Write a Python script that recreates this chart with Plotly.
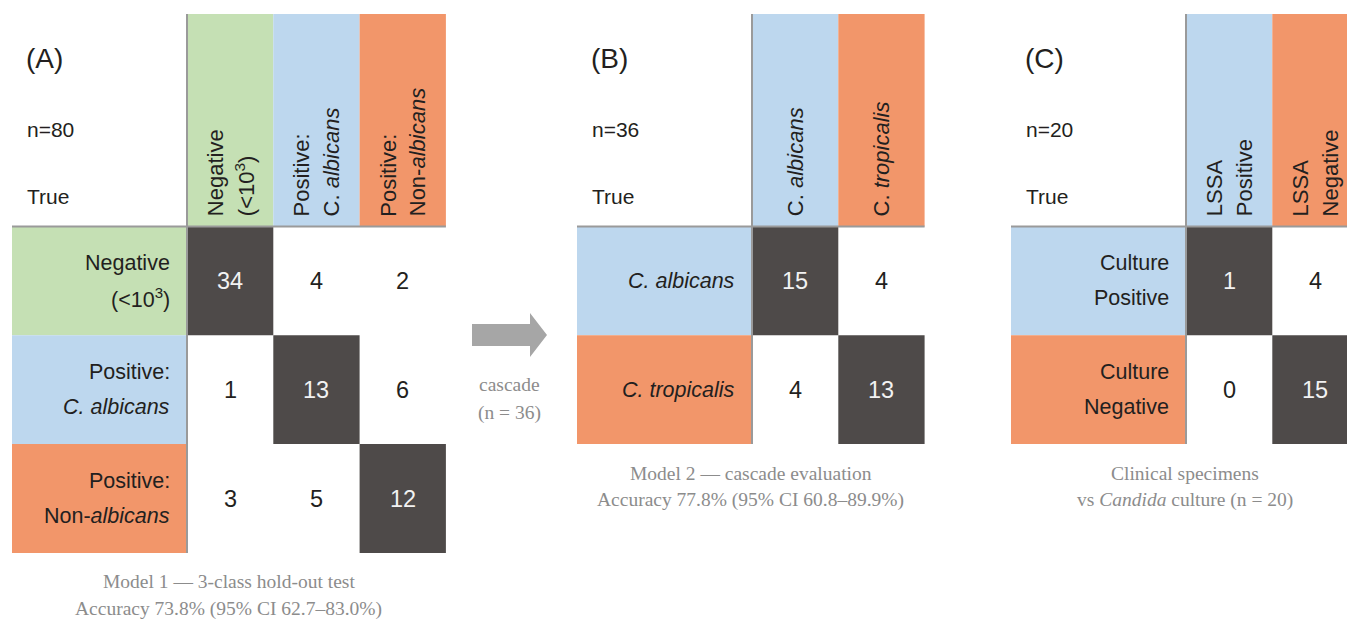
import plotly.graph_objects as go

# ---------------- data ----------------
panel_tags = ["(A)", "(B)", "(C)"]
panel_n = ["n=80", "n=36", "n=20"]

a_cols = [["Negative", "(<10<sup>3</sup>)"],
          ["Positive:", "C. <i>albicans</i>"],
          ["Positive:", "Non-<i>albicans</i>"]]
a_rows = [["Negative", "(<10<sup>3</sup>)"],
          ["Positive:", "<i>C. albicans</i>"],
          ["Positive:", "Non-<i>albicans</i>"]]
a_vals = [[34, 4, 2],
          [1, 13, 6],
          [3, 5, 12]]

b_cols = [["C. <i>albicans</i>"], ["C. <i>tropicalis</i>"]]
b_rows = [["<i>C. albicans</i>"], ["<i>C. tropicalis</i>"]]
b_vals = [[15, 4],
          [4, 13]]

c_cols = [["LSSA", "Positive"], ["LSSA", "Negative"]]
c_rows = [["Culture", "Positive"], ["Culture", "Negative"]]
c_vals = [[1, 4],
          [0, 15]]

captions = [
    ["Model 1 \u2014 3-class hold-out test",
     "Accuracy 73.8% (95% CI 62.7\u201383.0%)"],
    ["Model 2 \u2014 cascade evaluation",
     "Accuracy 77.8% (95% CI 60.8\u201389.9%)"],
    ["Clinical specimens",
     "vs <i>Candida</i> culture (n = 20)"],
]
arrow_text = ["cascade", "(n = 36)"]

# ---------------- styling ----------------
GREEN = "#c5e0b4"
BLUE = "#bdd7ee"
ORANGE = "#f2966a"
DARK = "#4e4a49"
LINE = "#9a9a9a"
INK = "#231f20"
CAP = "#8c8c8c"

SANS = "Liberation Sans, Arial, sans-serif"
SERIF = "Liberation Serif, Times New Roman, serif"

W, H = 1347, 620
HEAD_TOP = 14
GRID_TOP = 226.5
ROW_H = 108.8
COL_W = 86.3
LABEL_W = 175

panels = [
    dict(left=12, cols=a_cols, rows=a_rows, vals=a_vals,
         colors=[GREEN, BLUE, ORANGE]),
    dict(left=577, cols=b_cols, rows=b_rows, vals=b_vals,
         colors=[BLUE, ORANGE]),
    dict(left=1011, cols=c_cols, rows=c_rows, vals=c_vals,
         colors=[BLUE, ORANGE]),
]

fig = go.Figure()
shapes = []
annotations = []


def rect(x0, y0, x1, y1, color):
    shapes.append(dict(type="rect", xref="x", yref="y", x0=x0, y0=y0,
                       x1=x1, y1=y1, fillcolor=color,
                       line=dict(width=0), layer="below"))


def text(x, y, s, size, font=SANS, color=INK, xanchor="center",
         yanchor="middle", angle=0):
    annotations.append(dict(x=x, y=y, xref="x", yref="y", text=s,
                            showarrow=False, xanchor=xanchor,
                            yanchor=yanchor, textangle=angle,
                            font=dict(family=font, size=size, color=color)))


for p, pan in enumerate(panels):
    left = pan["left"]
    gx = left + LABEL_W
    n = len(pan["vals"])
    gright = gx + n * COL_W
    gbottom = GRID_TOP + n * ROW_H

    # column header strips with rotated labels
    for j, lines in enumerate(pan["cols"]):
        x0 = gx + j * COL_W
        rect(x0, HEAD_TOP, x0 + COL_W, GRID_TOP, pan["colors"][j])
        xc = x0 + COL_W / 2
        k = len(lines)
        for li, s in enumerate(lines):
            off = (li - (k - 1) / 2) * 30
            text(xc + off, GRID_TOP - 8, s, 22,
                 yanchor="bottom", angle=-90)

    # row label blocks and matrix cells
    for i, lines in enumerate(pan["rows"]):
        y0 = GRID_TOP + i * ROW_H
        yc = y0 + ROW_H / 2
        rect(left, y0, gx, y0 + ROW_H, pan["colors"][i])
        k = len(lines)
        for li, s in enumerate(lines):
            off = (li - (k - 1) / 2) * 35
            text(gx - 15, yc + off, s, 21.5, xanchor="right")
        for j, v in enumerate(pan["vals"][i]):
            x0 = gx + j * COL_W
            diag = i == j
            if diag:
                rect(x0, y0, x0 + COL_W, y0 + ROW_H, DARK)
            text(x0 + COL_W / 2, yc, str(v), 23.5,
                 color="#f2f2f2" if diag else INK)

    # divider lines
    shapes.append(dict(type="line", xref="x", yref="y", x0=left, x1=gright,
                       y0=GRID_TOP, y1=GRID_TOP,
                       line=dict(color=LINE, width=2)))
    shapes.append(dict(type="line", xref="x", yref="y", x0=gx, x1=gx,
                       y0=HEAD_TOP, y1=gbottom,
                       line=dict(color=LINE, width=2)))

    # corner texts
    text(left + 12, 58, panel_tags[p], 28, xanchor="left")
    text(left + 13, 129, panel_n[p], 21, xanchor="left")
    text(left + 13, 196, "True", 21, xanchor="left")

    # caption under the panel
    cx = (left + gright) / 2
    cy = gbottom + 29
    for li, s in enumerate(captions[p]):
        text(cx, cy + li * 27, s, 19.5, font=SERIF, color=CAP)

# arrow between panels A and B
ax0, ax1, ahx = 472, 547, 530
ay = 335
shapes.append(dict(
    type="path", xref="x", yref="y",
    path=(f"M {ax0},{ay - 11} L {ahx},{ay - 11} L {ahx},{ay - 22} "
          f"L {ax1},{ay} L {ahx},{ay + 22} L {ahx},{ay + 11} "
          f"L {ax0},{ay + 11} Z"),
    fillcolor="#a6a6a6", line=dict(width=0)))
for li, s in enumerate(arrow_text):
    text((ax0 + ax1) / 2, 384 + li * 29, s, 19.5, font=SERIF, color=CAP)

fig.update_layout(
    width=W, height=H,
    margin=dict(l=0, r=0, t=0, b=0),
    paper_bgcolor="white", plot_bgcolor="white",
    xaxis=dict(range=[0, W], visible=False, fixedrange=True),
    yaxis=dict(range=[H, 0], visible=False, fixedrange=True),
    shapes=shapes, annotations=annotations, showlegend=False,
)

fig.write_html("out.html")
